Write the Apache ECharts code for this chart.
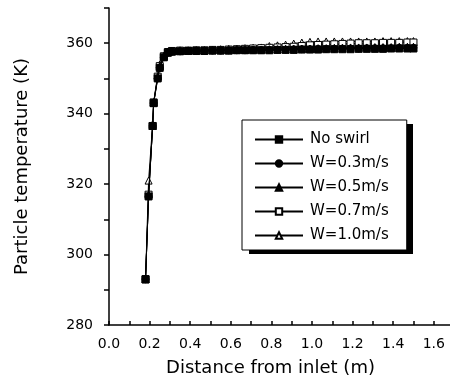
<!DOCTYPE html>
<html>
<head>
<meta charset="utf-8">
<script src="https://cdn.jsdelivr.net/npm/echarts@6/dist/echarts.min.js"></script>
<style>
  html, body { margin: 0; padding: 0; background: #fff; }
  #chart { width: 450px; height: 384px; }
</style>
</head>
<body>
<div id="chart"></div>
<script>
// distance from inlet (m)
var distance = [0.18, 0.195, 0.215, 0.22, 0.24, 0.25, 0.27, 0.29, 0.31, 0.35, 0.39, 0.43, 0.47, 0.51,
    0.55, 0.59, 0.63, 0.67, 0.71, 0.75, 0.79, 0.83, 0.87, 0.91, 0.95, 0.99, 1.03, 1.07, 1.11,
    1.15, 1.19, 1.23, 1.27, 1.31, 1.35, 1.39, 1.43, 1.47, 1.5];

// particle temperature (K)
var noSwirl = [293, 316.5, 336.5, 343, 350, 353, 356, 357.3, 357.6, 357.7, 357.8, 357.8, 357.8, 357.9,
    357.9, 357.9, 358, 358, 358, 358, 358, 358.1, 358.1, 358.1, 358.2, 358.2, 358.2, 358.3, 358.3,
    358.3, 358.3, 358.4, 358.4, 358.4, 358.4, 358.5, 358.5, 358.5, 358.5];
var w03 = [293, 316.5, 336.5, 343, 350, 353, 356, 357.3, 357.6, 357.7, 357.8, 357.8, 357.8, 357.9,
    357.9, 358, 358, 358, 358.1, 358.1, 358.1, 358.2, 358.2, 358.3, 358.3, 358.3, 358.4, 358.4, 358.4,
    358.5, 358.5, 358.5, 358.6, 358.6, 358.6, 358.6, 358.7, 358.7, 358.7];
var w05 = [293, 317, 336.5, 343, 350.5, 353.5, 356.2, 357.4, 357.7, 357.8, 357.8, 357.9, 357.9, 358,
    358, 358, 358.1, 358.1, 358.2, 358.2, 358.3, 358.3, 358.4, 358.4, 358.5, 358.5, 358.6, 358.6, 358.7,
    358.7, 358.8, 358.8, 358.8, 358.9, 358.9, 358.9, 359, 359, 359];
var w07 = [293, 317, 336.5, 343.2, 350.5, 353.5, 356.3, 357.5, 357.8, 357.9, 357.9, 358, 358, 358.1,
    358.1, 358.2, 358.3, 358.4, 358.5, 358.6, 358.7, 358.8, 358.9, 359, 359.2, 359.4, 359.5, 359.6, 359.7,
    359.8, 359.9, 360, 360, 360, 360.1, 360.1, 360.1, 360.2, 360.2];
var w10 = [293, 321, 337, 343.3, 351, 354, 356.5, 357.6, 357.9, 358, 358, 358.1, 358.1, 358.2,
    358.3, 358.4, 358.5, 358.6, 358.7, 358.8, 359.2, 359.4, 359.6, 359.9, 360.2, 360.4, 360.5, 360.5, 360.5,
    360.5, 360.5, 360.5, 360.5, 360.5, 360.6, 360.6, 360.6, 360.6, 360.6];

var seriesNames = ['No swirl', 'W=0.3m/s', 'W=0.5m/s', 'W=0.7m/s', 'W=1.0m/s'];
var seriesValues = [noSwirl, w03, w05, w07, w10];
var markers = ['rect', 'circle', 'triangle', 'rect', 'triangle'];
var hollow = [false, false, false, true, true];

// tick labels
var xLabels = [0, 0.2, 0.4, 0.6, 0.8, 1.0, 1.2, 1.4, 1.6];
var xTicks = [0, 0.1, 0.2, 0.3, 0.4, 0.5, 0.6, 0.7, 0.8, 0.9, 1.0, 1.1, 1.2, 1.3, 1.4, 1.5, 1.6];
var yLabels = [280, 300, 320, 340, 360];
var yTicks = [280, 290, 300, 310, 320, 330, 340, 350, 360, 370];

var myChart = echarts.init(document.getElementById('chart'));

var series = seriesNames.map(function (name, i) {
    return {
        name: name,
        type: 'line',
        data: distance.map(function (d, k) { return [d, seriesValues[i][k]]; }),
        symbol: markers[i],
        symbolSize: 7,
        showAllSymbol: true,
        lineStyle: { color: '#000', width: 1 },
        itemStyle: {
            color: hollow[i] ? '#fff' : '#000',
            borderColor: '#000',
            borderWidth: 1
        },
        emphasis: { disabled: true },
        z: 10 - i
    };
});

var option = {
    animation: false,
    backgroundColor: '#fff',
    textStyle: { fontFamily: 'DejaVu Sans, sans-serif', color: '#000' },
    grid: { left: 109, right: 0, top: 8, bottom: 59 },
    // drop shadow of the legend box
    graphic: [{
        type: 'rect',
        left: 249,
        top: 124,
        z: 1,
        shape: { width: 164, height: 130 },
        style: { fill: '#000' }
    }],
    legend: {
        orient: 'vertical',
        left: 242,
        top: 120,
        padding: [12, 18, 7, 12],
        itemWidth: 48,
        itemHeight: 8,
        itemGap: 9,
        backgroundColor: '#fff',
        borderColor: '#000',
        borderWidth: 1,
        z: 5,
        textStyle: {
            fontFamily: 'DejaVu Sans',
            fontSize: 15,
            color: '#000',
            padding: [0, 0, 0, 2]
        },
        data: seriesNames
    },
    xAxis: {
        type: 'value',
        min: 0,
        max: 1.68,
        name: 'Distance from inlet (m)',
        nameLocation: 'middle',
        nameGap: 34,
        nameTextStyle: { fontSize: 18, color: '#000', padding: [0, 18, 0, 0] },
        splitLine: { show: false },
        axisLine: { lineStyle: { color: '#000', width: 1.5 } },
        axisTick: {
            inside: true,
            length: 4,
            lineStyle: { color: '#000', width: 1.5 },
            customValues: xTicks
        },
        axisLabel: {
            fontSize: 14,
            color: '#000',
            margin: 12,
            customValues: xLabels,
            formatter: function (v) { return v.toFixed(1); }
        }
    },
    yAxis: {
        type: 'value',
        min: 280,
        max: 370,
        name: 'Particle temperature (K)',
        nameLocation: 'middle',
        nameGap: 78,
        nameTextStyle: { fontSize: 18, color: '#000' },
        splitLine: { show: false },
        axisLine: { lineStyle: { color: '#000', width: 1.5 } },
        axisTick: {
            length: 5,
            lineStyle: { color: '#000', width: 1.5 },
            customValues: yTicks
        },
        axisLabel: {
            fontSize: 14,
            color: '#000',
            margin: 16,
            customValues: yLabels
        }
    },
    series: series
};

myChart.setOption(option);
</script>
</body>
</html>
